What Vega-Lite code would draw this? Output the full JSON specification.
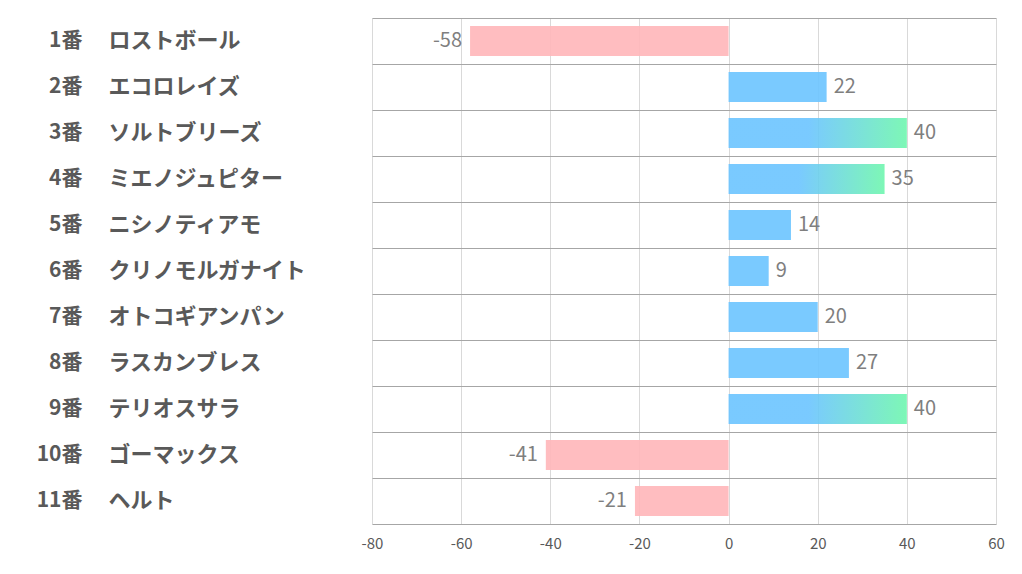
{
  "$schema": "https://vega.github.io/schema/vega-lite/v6.json",
  "width": 624,
  "height": 506,
  "autosize": {"type": "none"},
  "padding": {"left": 372, "top": 18, "right": 26, "bottom": 50},
  "background": "white",
  "config": {"view": {"stroke": null}, "font": "Noto Sans CJK JP"},
  "data": {
    "values": [
      {"horse": "1番　ロストボール", "v": -58},
      {"horse": "2番　エコロレイズ", "v": 22},
      {"horse": "3番　ソルトブリーズ", "v": 40},
      {"horse": "4番　ミエノジュピター", "v": 35},
      {"horse": "5番　ニシノティアモ", "v": 14},
      {"horse": "6番　クリノモルガナイト", "v": 9},
      {"horse": "7番　オトコギアンパン", "v": 20},
      {"horse": "8番　ラスカンブレス", "v": 27},
      {"horse": "9番　テリオスサラ", "v": 40},
      {"horse": "10番　ゴーマックス", "v": -41},
      {"horse": "11番　ヘルト", "v": -21}
    ]
  },
  "layer": [
    {
      "mark": {"type": "bar", "height": {"band": 0.65}, "opacity": 0.9},
      "encoding": {
        "x": {
          "field": "v", "type": "quantitative",
          "scale": {"domain": [-80, 60], "nice": false},
          "axis": {
            "title": null, "values": [-80, -60, -40, -20, 0, 20, 40, 60],
            "grid": true, "gridColor": "#D9D9D9", "domainColor": "#A6A6A6",
            "ticks": false, "labelFontSize": 15, "labelColor": "#595959",
            "labelPadding": 12, "labelFlush": false, "labelOverlap": false, "labelBound": false,
            "labelExpr": "replace(datum.label, '−', '-')"
          }
        },
        "y": {
          "field": "horse", "type": "nominal", "sort": null,
          "scale": {"paddingInner": 0, "paddingOuter": 0},
          "axis": {
            "orient": "left", "title": null, "grid": true, "gridColor": "#A6A6A6",
            "bandPosition": 0, "domain": false, "ticks": false, "tickSize": 0,
            "labelExpr": "split(datum.label, '　')[0]",
            "labelAlign": "right", "labelPadding": 290, "labelFontSize": 21,
            "labelFontWeight": "bold", "labelColor": "#595959", "labelLimit": 0
          }
        },
        "color": {
          "condition": [
            {"test": "datum.v < 0", "value": "#FFB6B9"},
            {"test": "datum.v >= 30", "value": {"gradient": "linear", "x1": 0, "y1": 0, "x2": 1, "y2": 0,
              "stops": [{"offset": 0, "color": "#6BC4FF"}, {"offset": 0.45, "color": "#6BC4FF"}, {"offset": 1, "color": "#6FF6AE"}]}}
          ],
          "value": "#6BC4FF"
        }
      }
    },
    {
      "transform": [{"filter": "datum.v >= 0"}],
      "mark": {"type": "text", "align": "left", "baseline": "middle", "dx": 7, "fontSize": 20, "color": "#7F7F7F"},
      "encoding": {
        "x": {"field": "v", "type": "quantitative"},
        "y": {
          "field": "horse", "type": "nominal", "sort": null,
          "axis": {
            "orient": "left", "title": null, "grid": false, "domain": false, "ticks": false, "tickSize": 0,
            "labelExpr": "split(datum.label, '　')[1]",
            "labelAlign": "left", "labelPadding": 264, "labelFontSize": 22,
            "labelFontWeight": "bold", "labelColor": "#595959", "labelLimit": 0
          }
        },
        "text": {"field": "v", "type": "nominal"}
      }
    },
    {
      "transform": [{"filter": "datum.v < 0"}],
      "mark": {"type": "text", "align": "right", "baseline": "middle", "dx": -8, "fontSize": 20, "color": "#7F7F7F"},
      "encoding": {
        "x": {"field": "v", "type": "quantitative"},
        "y": {"field": "horse", "type": "nominal", "sort": null, "axis": null},
        "text": {"field": "v", "type": "nominal"}
      }
    }
  ],
  "resolve": {"axis": {"y": "independent"}}
}
